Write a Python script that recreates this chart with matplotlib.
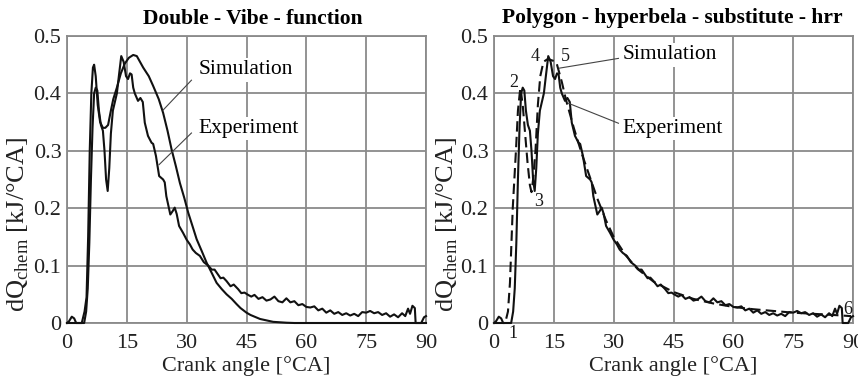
import matplotlib
matplotlib.use("Agg")
import matplotlib.pyplot as plt
import numpy as np

plt.rcParams["font.family"] = ["Liberation Serif", "DejaVu Serif"]
plt.rcParams["mathtext.fontset"] = "custom"
plt.rcParams["mathtext.rm"] = "Liberation Serif"

# Measured heat release rate (experiment)
exp_angle = [0.0, 0.5, 1.2, 1.8, 2.3, 4.3, 4.8, 5.2, 5.6, 6.0, 6.4, 6.8, 7.2, 7.6,
             8.0, 8.5, 9.0, 9.4, 9.8, 10.2, 10.6, 11.0, 11.5, 12.0, 12.5, 13.0,
             13.6, 14.2, 14.8, 15.3, 15.8, 16.2, 16.6, 17.0, 17.8, 18.4, 19.0,
             19.5, 20.3, 21.2, 21.6, 22.3, 23.1, 24.1, 24.5, 24.9, 25.9, 26.5,
             27.0, 27.5, 28.1, 29.1, 30.0, 30.8, 31.5, 32.3, 33.3, 34.3, 35.4,
             36.3, 37.0, 37.5, 38.5, 39.2, 40.0, 41.0, 41.8, 42.9, 43.7, 44.5,
             45.4, 46.2, 47.0, 48.0, 49.0, 50.0, 51.0, 52.0, 53.0, 54.0, 55.0,
             56.0, 57.0, 58.0, 59.0, 60.0, 61.0, 62.0, 63.0, 64.0, 65.0, 66.0,
             67.0, 68.0, 69.0, 70.0, 71.0, 72.0, 73.0, 74.0, 75.0, 76.0, 77.0,
             78.0, 79.0, 80.0, 81.0, 82.0, 83.0, 84.0, 84.8, 85.5, 86.0, 86.6,
             87.2, 87.4, 88.8, 89.5, 90.0]
exp_dq = [0.0, 0.003, 0.011, 0.008, 0.0, 0.0, 0.02, 0.06, 0.14, 0.25, 0.34, 0.40,
          0.41, 0.405, 0.37, 0.345, 0.335, 0.30, 0.25, 0.23, 0.27, 0.33, 0.37,
          0.385, 0.40, 0.43, 0.465, 0.455, 0.43, 0.425, 0.435, 0.433, 0.41, 0.40,
          0.387, 0.392, 0.385, 0.349, 0.326, 0.314, 0.312, 0.291, 0.256, 0.250,
          0.245, 0.221, 0.189, 0.195, 0.201, 0.19, 0.169, 0.157, 0.145, 0.137,
          0.128, 0.122, 0.117, 0.106, 0.100, 0.093, 0.093, 0.088, 0.078, 0.079,
          0.073, 0.064, 0.067, 0.059, 0.052, 0.053, 0.049, 0.046, 0.049, 0.042,
          0.045, 0.039, 0.041, 0.046, 0.038, 0.036, 0.043, 0.036, 0.038, 0.031,
          0.033, 0.028, 0.027, 0.029, 0.022, 0.025, 0.018, 0.022, 0.016, 0.019,
          0.014, 0.017, 0.013, 0.016, 0.012, 0.019, 0.018, 0.021, 0.017, 0.019,
          0.014, 0.017, 0.011, 0.015, 0.010, 0.017, 0.012, 0.025, 0.016, 0.030,
          0.026, 0.0, 0.0, 0.010, 0.012]

# Double Vibe function
vibe_angle = [0.0, 3.7, 4.4, 4.9, 5.3, 5.7, 6.1, 6.5, 6.8, 7.2, 7.7, 8.3, 9.0,
              9.6, 10.3, 11.0, 11.6, 12.5, 13.5, 14.5, 15.5, 16.6, 17.5, 19.1,
              20.5, 21.6, 23.0, 24.1, 25.2, 26.2, 27.3, 28.3, 29.4, 30.4, 31.5,
              32.5, 33.8, 35.0, 36.3, 37.5, 38.8, 40.0, 41.3, 42.5, 43.5, 45.0,
              46.0, 48.4, 51.7, 55.0, 57.0, 90.0]
vibe_dq = [0.0, 0.0, 0.02, 0.045, 0.15, 0.30, 0.40, 0.445, 0.45, 0.43, 0.38,
           0.35, 0.34, 0.34, 0.345, 0.37, 0.39, 0.41, 0.435, 0.452, 0.462, 0.467,
           0.465, 0.445, 0.43, 0.413, 0.39, 0.366, 0.335, 0.303, 0.273, 0.244,
           0.218, 0.192, 0.168, 0.146, 0.125, 0.105, 0.087, 0.070, 0.059, 0.050,
           0.042, 0.033, 0.026, 0.018, 0.014, 0.007, 0.002, 0.0005, 0.0, 0.0]

# Polygon - hyperbola substitute heat release rate
poly_angle = [0.0, 2.8, 3.5, 4.0, 4.7, 5.5, 6.0, 6.6, 7.2, 7.8, 8.4, 9.0, 9.4,
              9.8, 10.4, 11.0, 11.6, 12.4, 13.5, 15.6, 17.0, 18.0, 19.0, 20.0,
              22.0, 24.0, 26.0, 28.0, 30.0, 33.0, 36.0, 40.0, 45.0, 50.0, 55.0,
              60.0, 65.0, 70.0, 75.0, 80.0, 85.0, 89.5]
poly_dq = [0.0, 0.0, 0.02, 0.07, 0.20, 0.30, 0.37, 0.41, 0.38, 0.33, 0.28, 0.24,
           0.228, 0.25, 0.30, 0.38, 0.43, 0.455, 0.46, 0.455, 0.42, 0.39, 0.365,
           0.34, 0.295, 0.255, 0.215, 0.18, 0.15, 0.118, 0.094, 0.072, 0.054,
           0.042, 0.034, 0.028, 0.024, 0.021, 0.018, 0.016, 0.014, 0.012]

# Characteristic points of the substitute curve: label, x, y
point_labels = ["1", "2", "3", "4", "5", "6"]
point_x = [4.8, 4.9, 11.1, 10.3, 17.8, 88.8]
point_y = [-0.019, 0.419, 0.211, 0.464, 0.464, 0.024]

x_ticks = [0, 15, 30, 45, 60, 75, 90]
y_ticks = [0, 0.1, 0.2, 0.3, 0.4, 0.5]
y_tick_labels = ["0", "0.1", "0.2", "0.3", "0.4", "0.5"]
titles = ["Double - Vibe - function", "Polygon - hyperbela - substitute - hrr"]

W, H = 858, 379
fig = plt.figure(figsize=(W / 100, H / 100), dpi=100)
ax_l = fig.add_axes([67 / W, 1 - 323 / H, 359 / W, 287 / H])
ax_r = fig.add_axes([494 / W, 1 - 323 / H, 359 / W, 287 / H])

grid_col = "#8a8a8a"
line_col = "#111111"
text_col = "#222222"

for ax, title, lx, tx in zip([ax_l, ax_r], titles, [-0.100, -0.095], [0.517, 0.497]):
    ax.set_xlim(0, 90)
    ax.set_ylim(0, 0.5)
    ax.set_xticks(x_ticks)
    ax.set_yticks(y_ticks)
    ax.set_yticklabels(y_tick_labels)
    ax.tick_params(length=0, labelsize=16, colors=text_col)
    ax.tick_params(axis="x", pad=8)
    ax.tick_params(axis="y", pad=4)
    ax.grid(True, color=grid_col, lw=1.3)
    ax.set_axisbelow(True)
    for sp in ax.spines.values():
        sp.set_color(grid_col)
        sp.set_linewidth(1.3)
    ax.set_title(title, fontsize=15.5, fontweight="bold", pad=9, x=tx)
    ax.set_xlabel("Crank angle [°CA]", fontsize=16, labelpad=2, color=text_col)
    ax.set_ylabel(r"dQ$_{\rm chem}$ [kJ/°CA]", fontsize=19, color=text_col)
    ax.yaxis.set_label_coords(lx, 0.345)

# Left panel
ax_l.plot(exp_angle, exp_dq, color=line_col, lw=1.5, clip_on=False, zorder=3)
ax_l.plot(vibe_angle, vibe_dq, color=line_col, lw=1.5, clip_on=False, zorder=3)
box = dict(facecolor="white", edgecolor="none", pad=1.5)
ax_l.text(32.9, 0.441, "Simulation", fontsize=15.5, va="center", ha="left", bbox=box)
ax_l.text(32.9, 0.339, "Experiment", fontsize=15.5, va="center", ha="left", bbox=box)
ax_l.plot([31.2, 24.1], [0.423, 0.371], color="#444444", lw=0.8, zorder=4)
ax_l.plot([31.2, 23.1], [0.331, 0.276], color="#444444", lw=0.8, zorder=4)

# Right panel
ax_r.plot(exp_angle, exp_dq, color=line_col, lw=1.5, clip_on=False, zorder=3)
ax_r.plot(poly_angle, poly_dq, color=line_col, lw=1.5, ls=(0, (5, 2.5)),
          clip_on=False, zorder=3)
ax_r.text(32.3, 0.467, "Simulation", fontsize=15.5, va="center", ha="left", bbox=box)
ax_r.text(32.3, 0.339, "Experiment", fontsize=15.5, va="center", ha="left", bbox=box)
ax_r.plot([31.2, 16.4], [0.461, 0.444], color="#444444", lw=0.8, zorder=4)
ax_r.plot([31.2, 18.6], [0.348, 0.383], color="#444444", lw=0.8, zorder=4)
for lab, px, py in zip(point_labels, point_x, point_y):
    ax_r.text(px, py, lab, fontsize=13, ha="center", va="center",
              color="#1a1a1a", clip_on=False, zorder=5)

fig.savefig("out.png", dpi=100)
